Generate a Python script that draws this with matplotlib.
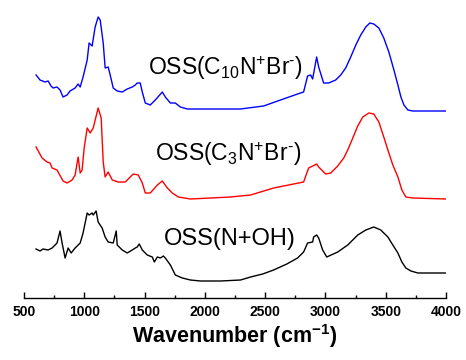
import matplotlib
matplotlib.use("Agg")
import matplotlib.pyplot as plt
from matplotlib.ticker import MultipleLocator

plt.rcParams['font.family'] = ['Liberation Sans', 'DejaVu Sans']
plt.rcParams['mathtext.fontset'] = 'custom'
plt.rcParams['mathtext.rm'] = 'Liberation Sans'
plt.rcParams['mathtext.it'] = 'Liberation Sans'
plt.rcParams['mathtext.bf'] = 'Liberation Sans:bold'

# spectra (wavenumber, offset intensity)
c10_wn = [600, 633, 675, 700, 724, 741, 774, 799, 824, 857, 882, 924, 949, 966, 990,
          1024, 1040, 1065, 1090, 1115, 1132, 1157, 1173, 1198, 1215, 1240, 1273, 1315,
          1356, 1398, 1423, 1439, 1464, 1481, 1506, 1547, 1589, 1647, 1672, 1714, 1755,
          1797, 1855, 1963, 2212, 2296, 2487, 2628, 2769, 2819, 2852, 2877, 2894, 2927,
          2944, 2985, 3027, 3085, 3127, 3168, 3210, 3252, 3293, 3335, 3368, 3401, 3443,
          3484, 3526, 3568, 3601, 3626, 3651, 3684, 3725, 3817, 4000]
c10_ab = [223, 218, 216, 217, 212, 210, 211, 208, 201, 203, 207, 210, 214, 211, 221,
          238, 255, 252, 271, 281, 278, 255, 230, 231, 223, 210, 207, 206,
          209, 211, 213, 215, 215, 206, 195, 193, 198, 206, 201, 195, 195,
          191, 189, 189, 189, 189, 192, 198, 204, 206, 222, 223, 219, 241,
          231, 215, 215, 218, 223, 230, 241, 253, 263, 271, 275, 274, 270,
          260, 246, 228, 213, 201, 193, 188, 187, 187, 187]

c3_wn = [600, 650, 691, 716, 733, 774, 824, 857, 899, 924, 949, 966, 982, 999, 1024,
         1049, 1074, 1115, 1140, 1157, 1173, 1198, 1232, 1281, 1340, 1381, 1406, 1448,
         1481, 1506, 1547, 1606, 1647, 1689, 1730, 1780, 1880, 2212, 2379, 2570, 2819,
         2861, 2894, 2927, 2944, 3002, 3044, 3102, 3152, 3185, 3227, 3268, 3310, 3360,
         3401, 3443, 3484, 3518, 3559, 3601, 3634, 3667, 3725, 4000]
c3_ab = [151, 140, 136, 135, 130, 128, 117, 115, 118, 123, 141, 125, 128, 150, 170,
         165, 170, 190, 180, 136, 121, 126, 118, 116, 116, 121, 124, 123,
         115, 105, 105, 113, 117, 110, 105, 101, 99, 101, 103, 110, 116,
         130, 132, 134, 131, 124, 125, 132, 140, 148, 160, 172, 181, 185,
         184, 176, 161, 148, 133, 121, 108, 101, 100, 99]

noh_wn = [600, 633, 658, 700, 733, 774, 799, 816, 841, 866, 891, 924, 966, 990, 1024,
          1040, 1065, 1074, 1098, 1115, 1148, 1173, 1198, 1240, 1265, 1273, 1315, 1356,
          1398, 1423, 1439, 1456, 1481, 1522, 1564, 1581, 1606, 1631, 1656, 1672, 1714,
          1755, 1813, 1880, 1963, 2130, 2296, 2379, 2480, 2570, 2680, 2769, 2819, 2852,
          2894, 2902, 2927, 2944, 2977, 3011, 3102, 3185, 3268, 3335, 3401, 3459, 3518,
          3559, 3601, 3634, 3667, 3709, 3767, 4000]
noh_ab = [49, 47, 49, 48, 50, 55, 67, 55, 40, 50, 45, 50, 55, 65, 85,
          83, 85, 83, 87, 76, 70, 61, 56, 55, 67, 53, 48, 45,
          48, 50, 51, 54, 48, 43, 41, 36, 41, 40, 42, 40, 33,
          23, 20, 18, 17, 17, 18, 21, 24, 28, 34, 40, 46, 55,
          56, 61, 63, 60, 48, 41, 46, 53, 63, 68, 71, 68, 61,
          53, 45, 36, 30, 27, 25, 25]

fig = plt.figure(figsize=(4.66, 3.6), dpi=100)
ax = fig.add_axes([24 / 466, 62 / 360, 422 / 466, 288 / 360])

ax.plot(c10_wn, c10_ab, color='#0000ff', lw=1.0)
ax.plot(c3_wn, c3_ab, color='#ff0000', lw=1.0)
ax.plot(noh_wn, noh_ab, color='black', lw=1.0)

ax.text(1531, 223, r'OSS(C$_{10}$N$^{+}$Br$^{\text{-}}$)', fontsize=16.5, va='baseline')
ax.text(1589, 137, r'OSS(C$_{3}$N$^{+}$Br$^{\text{-}}$)', fontsize=16.5, va='baseline')
ax.text(1656, 53, 'OSS(N+OH)', fontsize=17, va='baseline')

ax.set_xlim(500, 4000)
ax.set_ylim(0, 288)

for s in ['left', 'right', 'top']:
    ax.spines[s].set_visible(False)
ax.spines['bottom'].set_linewidth(1.0)
ax.set_yticks([])
ax.xaxis.set_major_locator(MultipleLocator(500))
ax.xaxis.set_minor_locator(MultipleLocator(250))
ax.tick_params(axis='x', which='major', direction='in', length=4, width=1.0, labelsize=10, pad=5)
ax.tick_params(axis='x', which='minor', direction='in', length=2.5, width=1.0)
for label in ax.get_xticklabels():
    label.set_fontweight('bold')

ax.set_xlabel(r'Wavenumber (cm$^{\mathbf{-1}}$)', fontsize=15.5, fontweight='bold', labelpad=2)

fig.savefig('out.png', dpi=100)
